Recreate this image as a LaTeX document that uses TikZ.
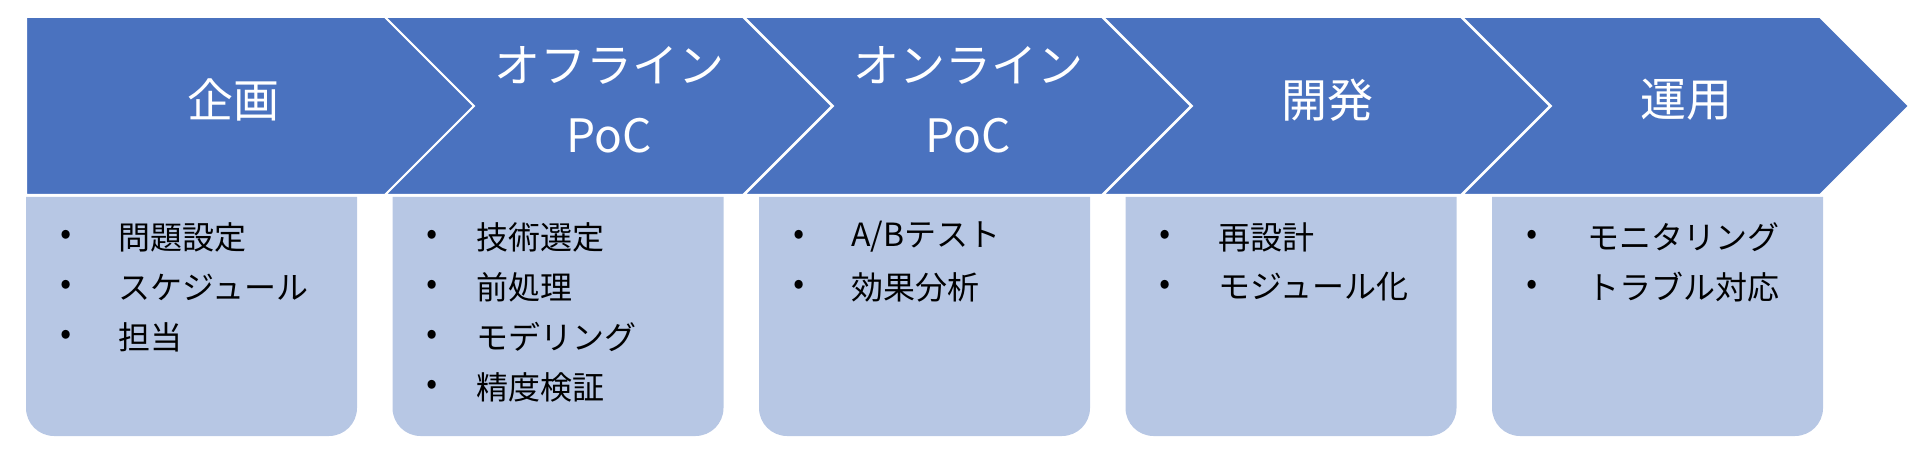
\documentclass[tikz,border=0pt]{standalone}
\usepackage{fontspec}
\setmainfont{Noto Sans CJK JP}
\definecolor{phaseblue}{HTML}{4A72BF}
\definecolor{listblue}{HTML}{B7C7E4}
\tikzset{
    phasebox/.style={fill=phaseblue, draw=white, line width=1pt, line join=miter},
    phaselabel/.style={text=white, font=\fontsize{23}{35}\selectfont, align=center},
    listbox/.style={fill=listblue},
    bulletdot/.style={font=\fontsize{16.5}{20}\selectfont, inner sep=0pt},
    listitem/.style={anchor=west, font=\fontsize{16}{20}\selectfont, inner sep=0pt}
}
\begin{document}
\begin{tikzpicture}[x=0.5pt, y=0.5pt]
            \useasboundingbox (0,0) rectangle (1920,461);
            % chevrons
            \filldraw[phasebox] (26,444) -- (385,444) -- (474,355) -- (385,266) -- (26,266) -- cycle;
            \foreach \x in {385,744,1103,1462}
                \filldraw[phasebox] (\x,444) -- ++(358,0) -- ++(89,-89) -- ++(-89,-89) -- ++(-358,0) -- ++(89,89) -- cycle;
            \node[phaselabel] (plan) at (233,361) {企画};
            \node[phaselabel] (offline) at (609,361) {オフライン\\PoC};
            \node[phaselabel] (online) at (968,361) {オンライン\\PoC};
            \node[phaselabel] (dev) at (1327,361) {開発};
            \node[phaselabel] (ops) at (1686,361) {運用};
            % list boxes
            \foreach \x in {26,392.5,759,1125.5,1492}
                \fill[listbox] (\x,264) -- (\x,53) arc[start angle=180, end angle=270, radius=14pt]
                    -- ({\x+303},25) arc[start angle=270, end angle=360, radius=14pt] -- ({\x+331},264) -- cycle;
            \foreach \t [count=\n] in {問題設定,スケジュール,担当} {
                \node[bulletdot] (plan-b\n) at (66,{274-50*\n}) {•};
                \node[listitem] (plan-i\n) at (118,{274-50*\n}) {\t};
            }
            \foreach \t [count=\n] in {技術選定,前処理,モデリング,精度検証} {
                \node[bulletdot] (offline-b\n) at (432.5,{274-50*\n}) {•};
                \node[listitem] (offline-i\n) at (476,{274-50*\n}) {\t};
            }
            \foreach \t [count=\n] in {A/Bテスト,効果分析} {
                \node[bulletdot] (online-b\n) at (799,{274-50*\n}) {•};
                \node[listitem] (online-i\n) at (851,{274-50*\n}) {\t};
            }
            \foreach \t [count=\n] in {再設計,モジュール化} {
                \node[bulletdot] (dev-b\n) at (1165.5,{274-50*\n}) {•};
                \node[listitem] (dev-i\n) at (1218,{274-50*\n}) {\t};
            }
            \foreach \t [count=\n] in {モニタリング,トラブル対応} {
                \node[bulletdot] (ops-b\n) at (1532,{274-50*\n}) {•};
                \node[listitem] (ops-i\n) at (1587,{274-50*\n}) {\t};
            }
        \end{tikzpicture}
\end{document}
